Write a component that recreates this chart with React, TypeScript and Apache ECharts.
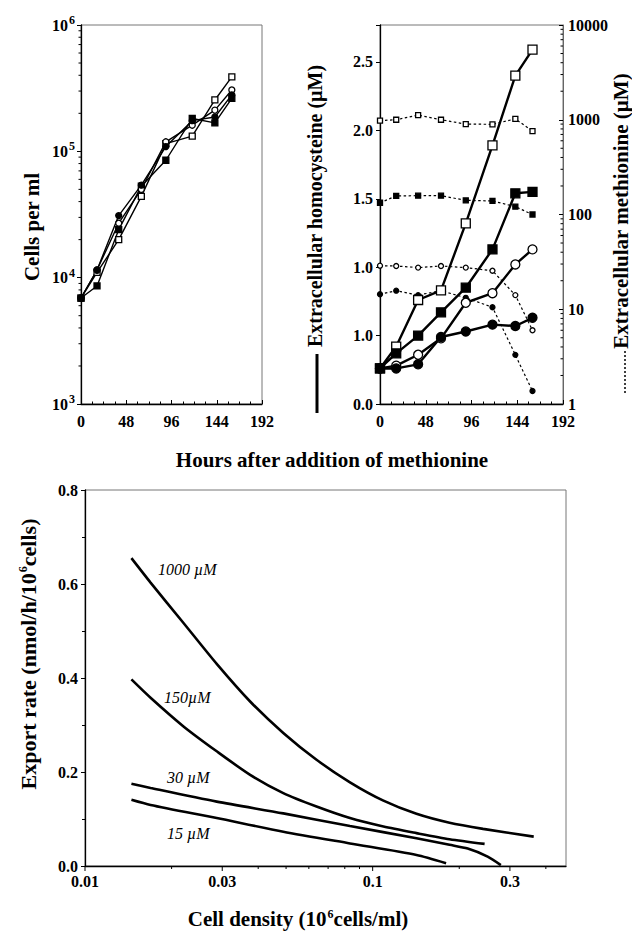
import React, { useEffect, useRef } from "react";
import * as echarts from "echarts";

const FONT = '"Liberation Serif", "Times New Roman", serif';

// Sampling times (hours after methionine was added)
const hours = [0, 17, 40, 64, 90, 118, 142, 160];

// Cells per ml for the four methionine doses
const cellsOpenSquare = [6900, 11000, 20000, 44000, 115000, 132000, 255000, 388000];
const cellsFilledSquare = [6900, 8600, 24000, 53000, 85000, 182000, 168000, 263000];
const cellsOpenCircle = [6900, 11500, 27000, 50000, 119000, 161000, 212000, 306000];
const cellsFilledCircle = [6900, 11500, 31000, 54000, 109000, 175000, 187000, 280000];

// Extracellular homocysteine (µM), solid lines
const hcyOpenSquare = [0.26, 0.42, 0.76, 0.83, 1.32, 1.89, 2.4, 2.59];
const hcyFilledSquare = [0.26, 0.37, 0.5, 0.67, 0.85, 1.13, 1.54, 1.55];
const hcyOpenCircle = [0.26, 0.28, 0.36, 0.48, 0.74, 0.81, 1.02, 1.13];
const hcyFilledCircle = [0.26, 0.26, 0.29, 0.49, 0.53, 0.58, 0.57, 0.63];

// Extracellular methionine (µM), dotted lines on the log axis
const metOpenSquare = [980, 1000, 1120, 1000, 900, 895, 1020, 760];
const metFilledSquare = [133, 157, 158, 158, 141, 139, 121, 100];
const metOpenCircle = [28.8, 28.6, 27.5, 28.6, 27.5, 25.5, 14.1, 6.0];
const metFilledCircle = [14.4, 15.7, 14.1, 15.7, 13.2, 10.5, 3.3, 1.37];

// Homocysteine axis tick labels, as printed
const hcyTickLabels = ["0.0", "1.0", "1.0", "1.5", "2.0", "2.5"];

// Export rate vs cell density curves
const dens1000 = [0.0145, 0.0169, 0.022, 0.0287, 0.0375, 0.0489, 0.0638, 0.0834, 0.109, 0.142, 0.185, 0.242, 0.363];
const rate1000 = [0.655, 0.603, 0.517, 0.43, 0.35, 0.283, 0.226, 0.178, 0.139, 0.111, 0.092, 0.079, 0.0625];
const dens150 = [0.0145, 0.0169, 0.022, 0.0287, 0.0375, 0.0489, 0.0638, 0.0834, 0.109, 0.142, 0.185, 0.245];
const rate150 = [0.397, 0.358, 0.297, 0.244, 0.194, 0.155, 0.1265, 0.102, 0.084, 0.07, 0.057, 0.047];
const dens30 = [0.0145, 0.0169, 0.0287, 0.0489, 0.0834, 0.142, 0.185, 0.214, 0.251, 0.279];
const rate30 = [0.175, 0.166, 0.137, 0.112, 0.085, 0.059, 0.045, 0.037, 0.02, 0.002];
const dens15 = [0.0145, 0.0169, 0.0287, 0.0489, 0.0834, 0.142, 0.18];
const rate15 = [0.141, 0.13, 0.102, 0.073, 0.048, 0.0235, 0.006];

// Cell density axis ticks
const densityLabelTicks = [0.01, 0.03, 0.1, 0.3];
const densityMinorTicks = [0.02, 0.04, 0.05, 0.06, 0.07, 0.08, 0.09, 0.2, 0.4];

const pairs = (xs: number[], ys: number[]) => xs.map((x, i) => [x, ys[i]]);

// 2..9 multiples within each decade of a log axis
const logMinor = (from: number, to: number) => {
  const out: number[] = [];
  for (let d = from; d < to; d *= 10) {
    for (let k = 2; k <= 9; k++) out.push(d * k);
  }
  return out;
};

const tickLabel = { color: "#000", fontFamily: FONT, fontWeight: "bold", fontSize: 16 };
const blackLine = { lineStyle: { color: "#000", width: 1.3 } };

type Mark = "openSquare" | "filledSquare" | "openCircle" | "filledCircle";

function marker(kind: Mark) {
  const filled = kind === "filledSquare" || kind === "filledCircle";
  return {
    symbol: kind.includes("Square") ? "rect" : "circle",
    itemStyle: { color: filled ? "#000" : "#fff", borderColor: "#000", borderWidth: 1.3 },
  };
}

function growth(kind: Mark, values: number[]) {
  return {
    type: "line",
    xAxisIndex: 0,
    yAxisIndex: 0,
    data: pairs(hours, values),
    symbolSize: 6,
    lineStyle: { color: "#000", width: 1.4 },
    ...marker(kind),
    z: 3,
  };
}

function homocysteine(kind: Mark, values: number[]) {
  return {
    type: "line",
    xAxisIndex: 1,
    yAxisIndex: 1,
    data: pairs(hours, values),
    symbolSize: 9,
    lineStyle: { color: "#000", width: 2.4 },
    ...marker(kind),
    z: 4,
  };
}

function methionine(kind: Mark, values: number[]) {
  return {
    type: "line",
    xAxisIndex: 1,
    yAxisIndex: 2,
    data: pairs(hours, values),
    symbolSize: 5,
    lineStyle: { color: "#000", width: 1.2, type: [2.5, 2.5] },
    ...marker(kind),
    z: 3,
  };
}

function exportCurve(xs: number[], ys: number[]) {
  return {
    type: "line",
    xAxisIndex: 2,
    yAxisIndex: 3,
    data: pairs(xs, ys),
    showSymbol: false,
    smooth: 0.25,
    lineStyle: { color: "#000", width: 2.6 },
  };
}

// Short tick marks drawn through the axis scales
function tickSeries(
  xi: number,
  yi: number,
  data: number[][],
  draw: (p: number[]) => { x1: number; y1: number; x2: number; y2: number }
) {
  return {
    type: "custom",
    xAxisIndex: xi,
    yAxisIndex: yi,
    silent: true,
    data,
    renderItem: (_params: any, api: any) => {
      const p = api.coord([api.value(0), api.value(1)]);
      return { type: "line", shape: draw(p), style: { stroke: "#000", lineWidth: 1 } };
    },
  };
}

const supRich = {
  s: { fontFamily: FONT, fontWeight: "bold", fontSize: 12, verticalAlign: "bottom", padding: [0, 0, 10, 1] },
};

const titleStyle = { fill: "#000", fontFamily: FONT, fontWeight: "bold", align: "center", verticalAlign: "middle" };
const curveLabel = { fill: "#000", fontFamily: FONT, fontStyle: "italic", fontSize: 16, verticalAlign: "middle" };

const hoursAxis = (gridIndex: number) => ({
  gridIndex, type: "value", min: 0, max: 192, interval: 48,
  axisLine: blackLine, axisTick: { inside: true, length: 4, lineStyle: { color: "#000" } },
  minorTick: { show: true, splitNumber: 4, length: 2.5, lineStyle: { color: "#000" } },
  axisLabel: { ...tickLabel, margin: 9 }, splitLine: { show: false },
});

const option: any = {
  animation: false,
  backgroundColor: "#fff",
  grid: [
    { left: 81, top: 25, width: 181, height: 379, show: true, borderColor: "#777", borderWidth: 1 },
    { left: 380, top: 25, width: 183, height: 379, show: true, borderColor: "#777", borderWidth: 1 },
    { left: 85, top: 490, width: 481, height: 376, show: true, borderColor: "#777", borderWidth: 1 },
  ],
  xAxis: [
    hoursAxis(0),
    hoursAxis(1),
    {
      gridIndex: 2, type: "log", min: 0.01, max: 0.47,
      axisLine: blackLine, axisTick: { show: false }, axisLabel: { show: false }, splitLine: { show: false },
    },
  ],
  yAxis: [
    {
      gridIndex: 0, type: "log", min: 1000, max: 1000000,
      axisLine: blackLine, axisTick: { length: 4, lineStyle: { color: "#000" } },
      axisLabel: {
        ...tickLabel, margin: 6,
        formatter: (v: number) => `{b|10}{s|${Math.round(Math.log10(v))}}`,
        rich: { b: { fontFamily: FONT, fontWeight: "bold", fontSize: 16 }, ...supRich },
      },
      splitLine: { show: false },
    },
    {
      gridIndex: 1, type: "value", min: 0, max: 2.77, interval: 0.5, position: "left",
      axisLine: blackLine, axisTick: { length: 4, lineStyle: { color: "#000" } },
      axisLabel: {
        ...tickLabel, margin: 7,
        formatter: (v: number) => {
          const i = Math.round(v / 0.5);
          return Math.abs(v - i * 0.5) < 1e-6 && i < hcyTickLabels.length ? hcyTickLabels[i] : "";
        },
      },
      splitLine: { show: false },
    },
    {
      gridIndex: 1, type: "log", min: 1, max: 10000, position: "right",
      axisLine: { lineStyle: { color: "#666", width: 1 } },
      axisTick: { inside: true, length: 4, lineStyle: { color: "#000" } },
      axisLabel: { ...tickLabel, margin: 5, lineHeight: 14, formatter: (v: number) => String(Math.round(v)) },
      splitLine: { show: false },
    },
    {
      gridIndex: 2, type: "value", min: 0, max: 0.8, interval: 0.2,
      axisLine: blackLine, axisTick: { length: 4, lineStyle: { color: "#000" } },
      minorTick: { show: true, splitNumber: 2, length: 3, lineStyle: { color: "#000" } },
      axisLabel: { ...tickLabel, margin: 7, formatter: (v: number) => v.toFixed(1) },
      splitLine: { show: false },
    },
  ],
  series: [
    growth("openSquare", cellsOpenSquare),
    growth("filledSquare", cellsFilledSquare),
    growth("openCircle", cellsOpenCircle),
    growth("filledCircle", cellsFilledCircle),

    methionine("openSquare", metOpenSquare),
    methionine("filledSquare", metFilledSquare),
    methionine("openCircle", metOpenCircle),
    methionine("filledCircle", metFilledCircle),

    homocysteine("openSquare", hcyOpenSquare),
    homocysteine("filledSquare", hcyFilledSquare),
    homocysteine("openCircle", hcyOpenCircle),
    homocysteine("filledCircle", hcyFilledCircle),

    exportCurve(dens1000, rate1000),
    exportCurve(dens150, rate150),
    exportCurve(dens30, rate30),
    exportCurve(dens15, rate15),

    // minor ticks of the cell count axis
    tickSeries(0, 0, logMinor(1000, 1000000).map((v) => [0, v]), (p) => ({ x1: p[0] - 2.5, y1: p[1], x2: p[0], y2: p[1] })),
    // minor ticks of the methionine axis
    tickSeries(1, 2, logMinor(1, 10000).map((v) => [192, v]), (p) => ({ x1: p[0] - 2.5, y1: p[1], x2: p[0], y2: p[1] })),
    // cell density ticks
    tickSeries(2, 3, densityLabelTicks.map((v) => [v, 0]), (p) => ({ x1: p[0], y1: p[1], x2: p[0], y2: p[1] + 5 })),
    tickSeries(2, 3, densityMinorTicks.map((v) => [v, 0]), (p) => ({ x1: p[0], y1: p[1], x2: p[0], y2: p[1] + 3 })),
    {
      type: "custom",
      xAxisIndex: 2,
      yAxisIndex: 3,
      silent: true,
      data: densityLabelTicks.map((v) => [v, 0]),
      renderItem: (_params: any, api: any) => {
        const v = api.value(0);
        const p = api.coord([v, 0]);
        return {
          type: "text",
          x: p[0],
          y: p[1] + 7,
          style: {
            text: String(v), fill: "#000", fontFamily: FONT, fontWeight: "bold", fontSize: 16,
            align: "center", verticalAlign: "top",
          },
        };
      },
    },
  ],
  graphic: [
    { type: "text", x: 32, y: 227, rotation: Math.PI / 2, style: { ...titleStyle, text: "Cells per ml", fontSize: 21 } },
    {
      type: "text", x: 315, y: 206, rotation: Math.PI / 2,
      style: { ...titleStyle, text: "Extracellular homocysteine (µM)", fontSize: 20 },
    },
    { type: "line", shape: { x1: 317, y1: 354, x2: 317, y2: 413 }, style: { stroke: "#000", lineWidth: 3 } },
    {
      type: "text", x: 621, y: 211, rotation: Math.PI / 2,
      style: { ...titleStyle, text: "Extracellular methionine (µM)", fontSize: 21 },
    },
    { type: "line", shape: { x1: 625, y1: 351, x2: 625, y2: 394 }, style: { stroke: "#000", lineWidth: 1.5, lineDash: [2, 2] } },
    { type: "text", x: 332, y: 460, style: { ...titleStyle, text: "Hours after addition of methionine", fontSize: 21 } },
    {
      type: "text", x: 28, y: 654, rotation: Math.PI / 2,
      style: { ...titleStyle, text: "Export rate (nmol/h/10{s|6}cells)", fontSize: 22, rich: supRich },
    },
    {
      type: "text", x: 298, y: 919,
      style: { ...titleStyle, text: "Cell density (10{s|6}cells/ml)", fontSize: 21, rich: supRich },
    },
    { type: "text", x: 158, y: 569, style: { ...curveLabel, text: "1000 µM" } },
    { type: "text", x: 164, y: 697, style: { ...curveLabel, text: "150µM" } },
    { type: "text", x: 167, y: 777, style: { ...curveLabel, text: "30 µM" } },
    { type: "text", x: 167, y: 833, style: { ...curveLabel, text: "15 µM" } },
  ],
};

export default function App() {
  const ref = useRef<HTMLDivElement>(null);
  useEffect(() => {
    document.body.style.margin = "0";
    const chart = echarts.init(ref.current as HTMLDivElement, null, { renderer: "svg" });
    chart.setOption(option);
    return () => chart.dispose();
  }, []);
  return <div ref={ref} style={{ width: 632, height: 933, background: "#fff" }} />;
}
